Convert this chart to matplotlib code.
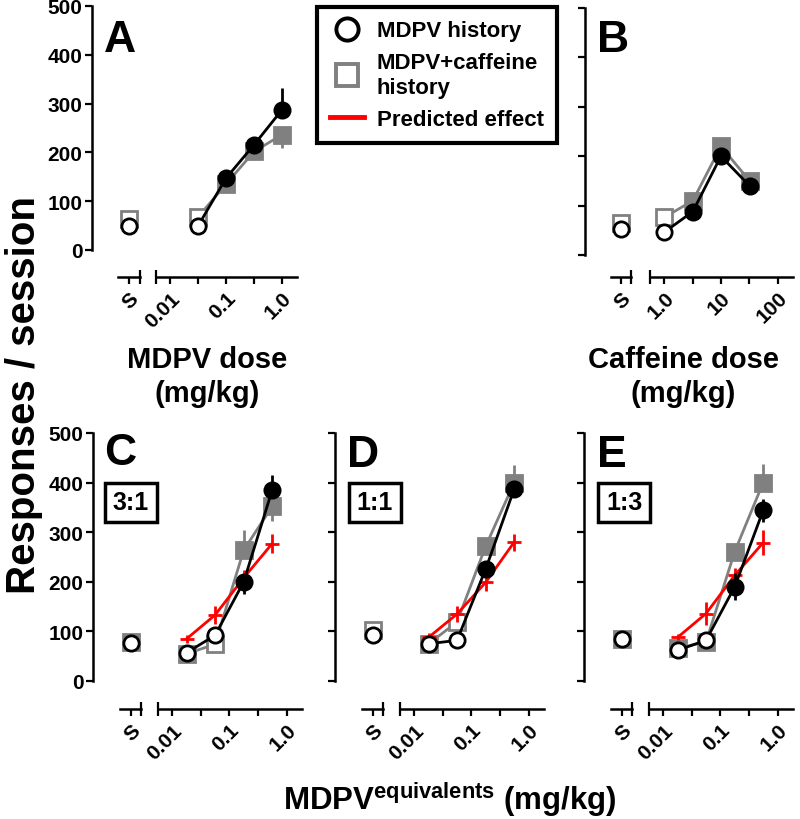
import matplotlib
matplotlib.use('Agg')
import matplotlib.pyplot as plt
from matplotlib.lines import Line2D

plt.rcParams['font.family'] = ['Liberation Sans', 'DejaVu Sans']
plt.rcParams['font.weight'] = 'bold'
plt.rcParams['mathtext.fontset'] = 'custom'
plt.rcParams['mathtext.rm'] = 'Liberation Sans:bold'
plt.rcParams['mathtext.bf'] = 'Liberation Sans:bold'
plt.rcParams['mathtext.it'] = 'Liberation Sans:bold'

# ---------------- data ----------------
mdpv_doses = [0.032, 0.1, 0.32, 1.0]
caff_doses = [1.0, 3.2, 10.0, 32.0]
equiv_doses = [0.0178, 0.056, 0.178, 0.56]

# Panel A (MDPV dose)
A_blk_S, A_blk = 50, [50, 147, 216, 287]
A_blk_fill = [False, True, True, True]
A_blk_elo, A_blk_ehi = [0, 0, 0, 0], [0, 0, 0, 45]
A_gry_S, A_gry = 63, [68, 135, 202, 236]
A_gry_S_fill, A_gry_fill = False, [False, True, True, True]
A_gry_elo, A_gry_ehi = [0, 0, 0, 28], [0, 0, 0, 0]

# Panel B (caffeine dose)
B_blk_S, B_blk = 53, [46, 88, 200, 140]
B_blk_fill = [False, True, True, True]
B_blk_elo, B_blk_ehi = [0, 0, 0, 0], [0, 0, 0, 0]
B_gry_S, B_gry = 64, [76, 110, 220, 150]
B_gry_S_fill, B_gry_fill = False, [False, True, True, True]
B_gry_elo, B_gry_ehi = [0, 0, 0, 0], [0, 0, 4, 4]

# Panel C (3:1)
C_blk_S, C_blk = 77, [57, 92, 200, 385]
C_blk_fill = [False, False, True, True]
C_blk_elo, C_blk_ehi = [0, 0, 25, 0], [0, 0, 0, 30]
C_gry_S, C_gry = 78, [55, 74, 264, 352]
C_gry_S_fill, C_gry_fill = True, [True, False, True, True]
C_gry_elo, C_gry_ehi = [0, 0, 0, 30], [0, 0, 40, 0]
C_red, C_red_err = [85, 133, 208, 277], [8, 18, 15, 19]

# Panel D (1:1)
D_blk_S, D_blk = 92, [75, 82, 226, 387]
D_blk_fill = [False, False, True, True]
D_blk_elo, D_blk_ehi = [0, 0, 0, 15], [0, 0, 0, 0]
D_gry_S, D_gry = 103, [75, 119, 272, 400]
D_gry_S_fill, D_gry_fill = False, [True, False, True, True]
D_gry_elo, D_gry_ehi = [0, 0, 0, 0], [0, 0, 17, 35]
D_red, D_red_err = [88, 135, 199, 280], [8, 17, 17, 17]

# Panel E (1:3)
E_blk_S, E_blk = 85, [62, 82, 190, 344]
E_blk_fill = [False, False, True, True]
E_blk_elo, E_blk_ehi = [0, 0, 27, 23], [0, 0, 27, 23]
E_gry_S, E_gry = 85, [66, 79, 261, 400]
E_gry_S_fill, E_gry_fill = True, [True, True, True, True]
E_gry_elo, E_gry_ehi = [0, 0, 0, 0], [0, 0, 0, 37]
E_red, E_red_err = [88, 136, 213, 279], [6, 23, 15, 25]

y_ticks = [0, 100, 200, 300, 400, 500]
mdpv_tick_labels = ['0.01', '0.1', '1.0']
caff_tick_labels = ['1.0', '10', '100']

# ---------------- style ----------------
W, H = 800, 820
fig = plt.figure(figsize=(W / 100, H / 100), dpi=100)

BLACK = 'black'
GRAY = '#808080'
RED = '#ff0000'
MS = 11
MEW = 2.0
LW = 2.0
TICKFS = 15


def fx(px):
    return px / W


def fy(py):
    return 1 - py / H


def vline(x, y0, y1):
    fig.add_artist(Line2D([fx(x), fx(x)], [fy(y0), fy(y1)], transform=fig.transFigure,
                          color='black', lw=1.6, solid_capstyle='butt'))


def panel(yaxis_x, top, bot, axis_y, s_rng, l_rng, xlim, xticks_major, xlabels,
          doses, blk_S, blk, blk_fill, blk_elo, blk_ehi,
          gry_S, gry_S_fill, gry, gry_fill, gry_elo, gry_ehi,
          red=None, red_err=None, ylabels=True):
    bottom = fy(bot)
    height = (bot - top) / H
    out = (axis_y - bot) * 0.72
    # y axis
    ay = fig.add_axes([fx(yaxis_x), bottom, fx(s_rng[0] - 4) - fx(yaxis_x), height])
    ay.patch.set_visible(False)
    ay.set_ylim(0, 500)
    ay.set_yticks(y_ticks)
    for s in ['top', 'right', 'bottom']:
        ay.spines[s].set_visible(False)
    ay.spines['left'].set_linewidth(1.8)
    ay.set_xticks([])
    ay.tick_params(axis='y', length=5, width=1.6, labelsize=TICKFS, pad=2)
    if not ylabels:
        ay.set_yticklabels([])

    # S segment
    axs = fig.add_axes([fx(s_rng[0]), bottom, (s_rng[1] - s_rng[0]) / W, height])
    axs.patch.set_visible(False)
    axs.set_ylim(0, 500)
    axs.set_xlim(-1, 1)
    for s in ['top', 'right', 'left']:
        axs.spines[s].set_visible(False)
    axs.spines['bottom'].set_position(('outward', out))
    axs.spines['bottom'].set_linewidth(1.8)
    axs.set_yticks([])
    axs.set_xticks([0])
    axs.set_xticklabels(['S'], rotation=45, ha='right', va='top', rotation_mode='anchor')
    axs.tick_params(axis='x', length=5, width=1.6, labelsize=TICKFS, pad=3)

    # log segment
    axl = fig.add_axes([fx(l_rng[0]), bottom, (l_rng[1] - l_rng[0]) / W, height])
    axl.patch.set_visible(False)
    axl.set_xscale('log')
    axl.set_xlim(*xlim)
    axl.set_ylim(0, 500)
    for s in ['top', 'right', 'left']:
        axl.spines[s].set_visible(False)
    axl.spines['bottom'].set_position(('outward', out))
    axl.spines['bottom'].set_linewidth(1.8)
    axl.set_yticks([])
    axl.set_xticks(xticks_major)
    axl.set_xticklabels(xlabels, rotation=45, ha='right', va='top', rotation_mode='anchor')
    minors = [xticks_major[0] * 10 ** 0.5, xticks_major[1] * 10 ** 0.5]
    axl.set_xticks(minors, minor=True)
    axl.xaxis.set_minor_formatter(plt.NullFormatter())
    axl.tick_params(axis='x', which='both', length=5, width=1.6, labelsize=TICKFS, pad=3)

    # caps on broken axis
    vline(s_rng[1], axis_y - 7, axis_y + 7)
    vline(l_rng[0], axis_y - 7, axis_y + 7)

    # gray series
    axl.plot(doses, gry, '-', color=GRAY, lw=LW, zorder=2, clip_on=False)
    axl.errorbar(doses, gry, yerr=[gry_elo, gry_ehi], fmt='none', ecolor=GRAY,
                 elinewidth=LW, capsize=0, zorder=2, clip_on=False)
    for x, y, f in zip(doses, gry, gry_fill):
        axl.plot([x], [y], 's', ms=MS, mew=MEW, mec=GRAY,
                 mfc=GRAY if f else 'white', zorder=3, clip_on=False)
    axs.plot([0], [gry_S], 's', ms=MS, mew=MEW, mec=GRAY,
             mfc=GRAY if gry_S_fill else 'white', zorder=3, clip_on=False)

    # red series
    if red is not None:
        axl.errorbar(doses, red, yerr=red_err, color=RED, lw=LW, elinewidth=LW,
                     capsize=0, marker='_', ms=10, mew=LW, zorder=4, clip_on=False)

    # black series
    axl.plot(doses, blk, '-', color=BLACK, lw=LW, zorder=5, clip_on=False)
    axl.errorbar(doses, blk, yerr=[blk_elo, blk_ehi], fmt='none', ecolor=BLACK,
                 elinewidth=LW, capsize=0, zorder=5, clip_on=False)
    for x, y, f in zip(doses, blk, blk_fill):
        axl.plot([x], [y], 'o', ms=MS, mew=MEW, mec=BLACK,
                 mfc=BLACK if f else 'white', zorder=6, clip_on=False)
    axs.plot([0], [blk_S], 'o', ms=MS, mew=MEW, mec=BLACK, mfc='white',
             zorder=6, clip_on=False)
    return ay


mdpv_lim = (10 ** -2.25, 10 ** 0.27)
caff_lim = (10 ** -0.25, 10 ** 2.27)

panel(92, 7, 251, 278, (118, 140), (156, 297), mdpv_lim, [0.01, 0.1, 1.0], mdpv_tick_labels,
      mdpv_doses, A_blk_S, A_blk, A_blk_fill, A_blk_elo, A_blk_ehi,
      A_gry_S, A_gry_S_fill, A_gry, A_gry_fill, A_gry_elo, A_gry_ehi)
panel(585, 9, 256, 278, (611, 631), (650, 793), caff_lim, [1.0, 10.0, 100.0], caff_tick_labels,
      caff_doses, B_blk_S, B_blk, B_blk_fill, B_blk_elo, B_blk_ehi,
      B_gry_S, B_gry_S_fill, B_gry, B_gry_fill, B_gry_elo, B_gry_ehi, ylabels=False)
panel(93, 434, 682, 710, (120, 141), (158, 302), mdpv_lim, [0.01, 0.1, 1.0], mdpv_tick_labels,
      equiv_doses, C_blk_S, C_blk, C_blk_fill, C_blk_elo, C_blk_ehi,
      C_gry_S, C_gry_S_fill, C_gry, C_gry_fill, C_gry_elo, C_gry_ehi, C_red, C_red_err)
panel(335, 434, 682, 710, (362, 383), (400, 544), mdpv_lim, [0.01, 0.1, 1.0], mdpv_tick_labels,
      equiv_doses, D_blk_S, D_blk, D_blk_fill, D_blk_elo, D_blk_ehi,
      D_gry_S, D_gry_S_fill, D_gry, D_gry_fill, D_gry_elo, D_gry_ehi, D_red, D_red_err,
      ylabels=False)
panel(584, 434, 682, 710, (611, 632), (649, 793), mdpv_lim, [0.01, 0.1, 1.0], mdpv_tick_labels,
      equiv_doses, E_blk_S, E_blk, E_blk_fill, E_blk_elo, E_blk_ehi,
      E_gry_S, E_gry_S_fill, E_gry, E_gry_fill, E_gry_elo, E_gry_ehi, E_red, E_red_err,
      ylabels=False)

# panel letters
for letter, x, y in [('A', 104, 20), ('B', 597, 20), ('C', 104, 433), ('D', 347, 435), ('E', 597, 435)]:
    fig.text(fx(x), fy(y), letter, fontsize=32, fontweight='bold', ha='left', va='top')

# ratio boxes
for ratio, x in [('3:1', 131), ('1:1', 375), ('1:3', 624)]:
    fig.text(fx(x), fy(503), ratio, fontsize=18, fontweight='bold', ha='center', va='center',
             bbox=dict(boxstyle='square,pad=0.3', fc='white', ec='black', lw=2.5))

# axis labels
fig.text(fx(207), fy(377), 'MDPV dose\n(mg/kg)', fontsize=21, fontweight='bold',
         ha='center', va='center', linespacing=1.3)
fig.text(fx(683), fy(377), 'Caffeine dose\n(mg/kg)', fontsize=21, fontweight='bold',
         ha='center', va='center', linespacing=1.3)
fig.text(fx(24), fy(395), 'Responses / session', fontsize=29, fontweight='bold',
         ha='center', va='center', rotation=90)
fig.text(fx(450), fy(800), r'MDPV$^{\mathbf{equivalents}}$ (mg/kg)', fontsize=22.5,
         fontweight='bold', ha='center', va='center')

# legend
handles = [
    Line2D([], [], ls='none', marker='o', ms=16, mew=2.8, mec='black', mfc='white'),
    Line2D([], [], ls='none', marker='s', ms=16, mew=2.8, mec=GRAY, mfc='white'),
    Line2D([], [], color=RED, lw=3.5),
]
labels = ['MDPV history', 'MDPV+caffeine\nhistory', 'Predicted effect']
leg = fig.legend(handles, labels, loc='upper left', bbox_to_anchor=(fx(317), fy(8)),
                 frameon=True, fancybox=False, edgecolor='black', framealpha=1,
                 prop={'size': 16, 'weight': 'bold'}, handlelength=1.5, handletextpad=0.6,
                 borderpad=0.6, labelspacing=0.5, borderaxespad=0)
leg.get_frame().set_linewidth(3)

fig.savefig('out.png', dpi=100)
